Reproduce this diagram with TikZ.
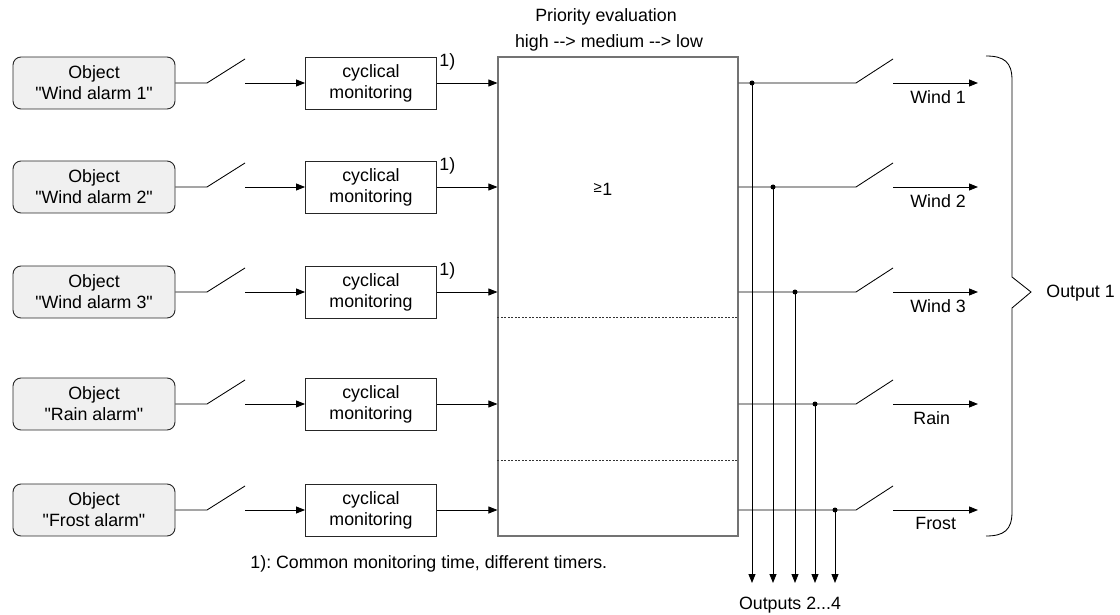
\documentclass[tikz,border=0pt]{standalone}
\usepackage{fontspec}
\setmainfont{Liberation Sans}[Ligatures=TeXOff]
\usepackage{tikz}
\usetikzlibrary{arrows.meta,positioning}
\frenchspacing

\tikzset{
  objbox/.style={draw=black!85, fill=black!6, rounded corners=8pt, line width=0.9pt,
    minimum width=162pt, minimum height=52pt, align=center, inner sep=0pt},
  monbox/.style={draw=black!85, line width=0.9pt,
    minimum width=131pt, minimum height=52pt, align=center, inner sep=0pt},
  arr/.style={-{Triangle[length=9pt,width=7pt]}},
  dot/.style={circle, fill=black, inner sep=0pt, minimum size=5pt},
  lbl/.style={inner sep=0pt}
}

\begin{document}
\begin{tikzpicture}[x=1pt, y=-1pt, line width=0.85pt, font=\fontsize{17.8}{21}\selectfont]
  \useasboundingbox (0,0) rectangle (1120,615);

  % objects
  \node[objbox] (obj1) at (94,83)  {Object\\"Wind alarm 1"};
  \node[objbox] (obj2) at (94,187) {Object\\"Wind alarm 2"};
  \node[objbox] (obj3) at (94,292) {Object\\"Wind alarm 3"};
  \node[objbox] (obj4) at (94,404) {Object\\"Rain alarm"};
  \node[objbox] (obj5) at (94,510) {Object\\"Frost alarm"};

  % monitoring
  \node[monbox] (mon1) at (371,83)  {cyclical\\monitoring};
  \node[monbox] (mon2) at (371,187) {cyclical\\monitoring};
  \node[monbox] (mon3) at (371,292) {cyclical\\monitoring};
  \node[monbox] (mon4) at (371,404) {cyclical\\monitoring};
  \node[monbox] (mon5) at (371,510) {cyclical\\monitoring};

  \node[lbl, anchor=west] (n1) at ([xshift=2pt,yshift=-5pt]mon1.north east) {1)};
  \node[lbl, anchor=west] (n2) at ([xshift=2pt,yshift=-5pt]mon2.north east) {1)};
  \node[lbl, anchor=west] (n3) at ([xshift=2pt,yshift=-5pt]mon3.north east) {1)};

  % input switches
  \coordinate (sa1) at (207,83);  \coordinate (sb1) at (245,59);  \coordinate (sc1) at (245,83);
  \coordinate (sa2) at (207,187); \coordinate (sb2) at (245,163); \coordinate (sc2) at (245,187);
  \coordinate (sa3) at (207,292); \coordinate (sb3) at (245,268); \coordinate (sc3) at (245,292);
  \coordinate (sa4) at (207,404); \coordinate (sb4) at (245,380); \coordinate (sc4) at (245,404);
  \coordinate (sa5) at (207,510); \coordinate (sb5) at (245,486); \coordinate (sc5) at (245,510);

  \draw (obj1) -- (sa1) -- (sb1);
  \draw (obj2) -- (sa2) -- (sb2);
  \draw (obj3) -- (sa3) -- (sb3);
  \draw (obj4) -- (sa4) -- (sb4);
  \draw (obj5) -- (sa5) -- (sb5);
  \draw[arr] (sc1) -- (mon1);
  \draw[arr] (sc2) -- (mon2);
  \draw[arr] (sc3) -- (mon3);
  \draw[arr] (sc4) -- (mon4);
  \draw[arr] (sc5) -- (mon5);

  % priority evaluation
  \node[draw=black!55, line width=1.1pt, minimum width=240pt, minimum height=479pt, inner sep=0pt]
    (prio) at (618,296.5) {};
  \node[lbl] (prt) at (606,17) {Priority evaluation};
  \node[lbl] (prh) at (609,43) {high --> medium --> low};
  \node[lbl] (ge) at (603,189) {\fontsize{15}{15}\selectfont\raisebox{3pt}{≥}\kern0.5pt\fontsize{17.8}{21}\selectfont 1};
  \draw[black!80, line width=0.6pt, dash pattern=on 2pt off 1.5pt]
    (prio.west |- 0,317) -- (prio.east |- 0,317);
  \draw[black!80, line width=0.6pt, dash pattern=on 2pt off 1.5pt]
    (prio.west |- 0,460) -- (prio.east |- 0,460);

  \draw[arr] (mon1) -- (mon1 -| prio.west);
  \draw[arr] (mon2) -- (mon2 -| prio.west);
  \draw[arr] (mon3) -- (mon3 -| prio.west);
  \draw[arr] (mon4) -- (mon4 -| prio.west);
  \draw[arr] (mon5) -- (mon5 -| prio.west);

  % outputs
  \node[dot] (d1) at (752,83) {};
  \node[dot] (d2) at (773,187) {};
  \node[dot] (d3) at (795,292) {};
  \node[dot] (d4) at (815,404) {};
  \node[dot] (d5) at (835,510) {};

  \coordinate (ta1) at (856,83);  \coordinate (tb1) at (893,59);  \coordinate (tc1) at (893,83);  \coordinate (out1) at (978,83);
  \coordinate (ta2) at (856,187); \coordinate (tb2) at (893,163); \coordinate (tc2) at (893,187); \coordinate (out2) at (978,187);
  \coordinate (ta3) at (856,292); \coordinate (tb3) at (893,268); \coordinate (tc3) at (893,292); \coordinate (out3) at (978,292);
  \coordinate (ta4) at (856,404); \coordinate (tb4) at (893,380); \coordinate (tc4) at (893,404); \coordinate (out4) at (978,404);
  \coordinate (ta5) at (856,510); \coordinate (tb5) at (893,486); \coordinate (tc5) at (893,510); \coordinate (out5) at (978,510);

  \draw (prio.east |- d1) -- (d1.center) -- (ta1) -- (tb1);
  \draw (prio.east |- d2) -- (d2.center) -- (ta2) -- (tb2);
  \draw (prio.east |- d3) -- (d3.center) -- (ta3) -- (tb3);
  \draw (prio.east |- d4) -- (d4.center) -- (ta4) -- (tb4);
  \draw (prio.east |- d5) -- (d5.center) -- (ta5) -- (tb5);
  \draw[arr] (tc1) -- (out1);
  \draw[arr] (tc2) -- (out2);
  \draw[arr] (tc3) -- (out3);
  \draw[arr] (tc4) -- (out4);
  \draw[arr] (tc5) -- (out5);

  \node[lbl, anchor=north west] (w1) at (910,90)  {Wind 1};
  \node[lbl, anchor=north west] (w2) at (910,194) {Wind 2};
  \node[lbl, anchor=north west] (w3) at (910,299) {Wind 3};
  \node[lbl, anchor=north west] (w4) at (913,411) {Rain};
  \node[lbl, anchor=north west] (w5) at (915,517) {Frost};

  % outputs 2...4
  \coordinate (v1) at (752,583);
  \coordinate (v2) at (773,583);
  \coordinate (v3) at (795,583);
  \coordinate (v4) at (815,583);
  \coordinate (v5) at (835,583);
  \draw[arr] (d1.center) -- (v1);
  \draw[arr] (d2.center) -- (v2);
  \draw[arr] (d3.center) -- (v3);
  \draw[arr] (d4.center) -- (v4);
  \draw[arr] (d5.center) -- (v5);
  \node[lbl] (outs) at (790,605) {Outputs 2...4};

  % brace
  \coordinate (tip) at (1031,292);
  \draw (986,56) .. controls (1004,56) and (1012,62) .. (1012,80) -- (1012,277) -- (tip)
    -- (1012,308) -- (1012,512) .. controls (1012,530) and (1004,536) .. (986,536);
  \node[lbl, anchor=west] (o1) at (1046,293) {Output 1};

  \node[lbl, anchor=west] (foot) at (250,564) {1): Common monitoring time, different timers.};
\end{tikzpicture}
\end{document}
